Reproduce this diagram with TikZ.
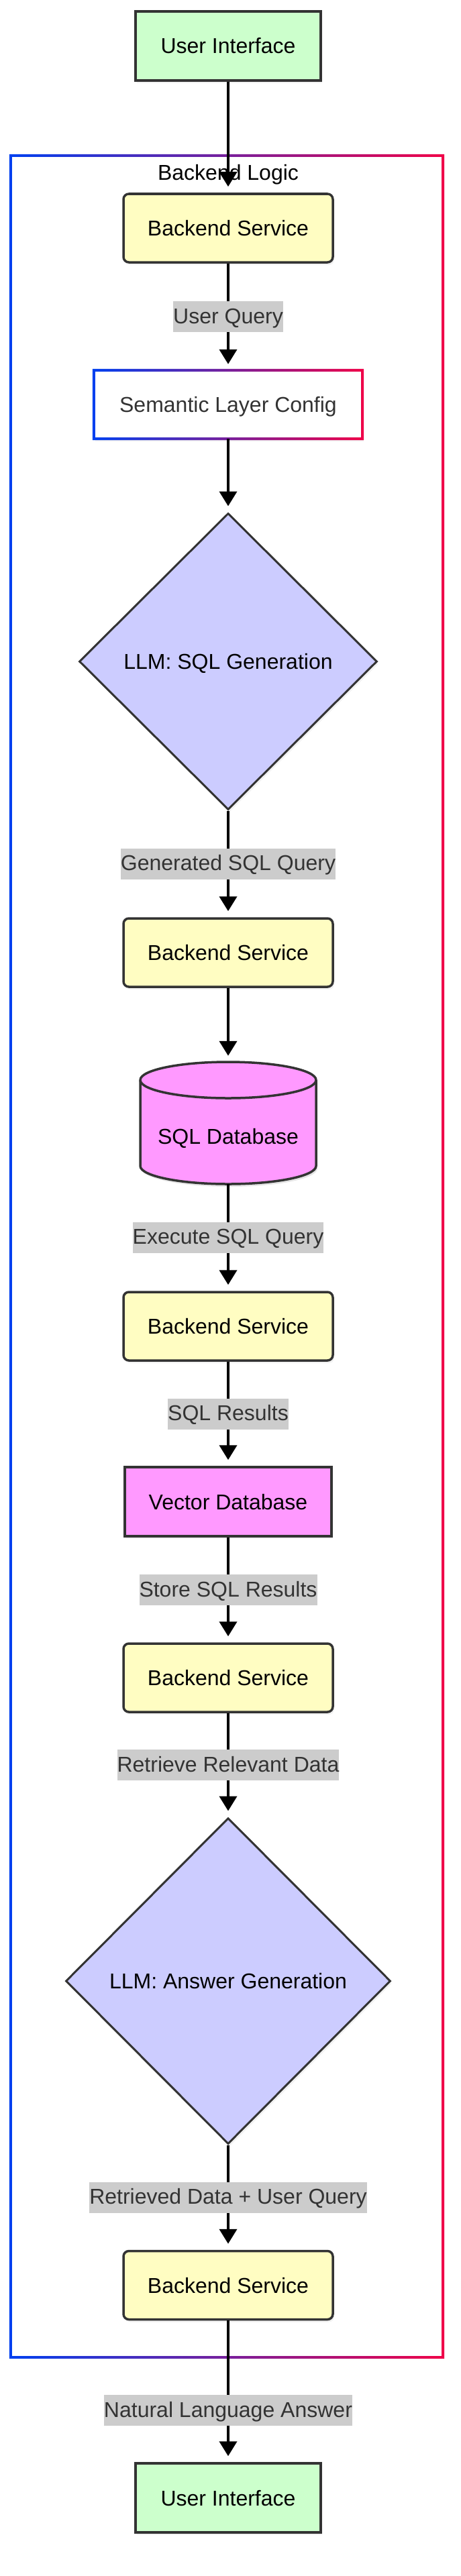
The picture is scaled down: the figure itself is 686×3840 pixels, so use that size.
\documentclass[tikz,border=0pt]{standalone}
\usepackage{fontspec}
\setmainfont{Liberation Sans}
\usetikzlibrary{shapes.geometric,arrows.meta,shadows}
\definecolor{gblue}{RGB}{0,64,240}
\definecolor{gred}{RGB}{240,0,72}
\definecolor{uifill}{HTML}{CCFFCC}
\definecolor{bsfill}{HTML}{FFFDC2}
\definecolor{dfill}{HTML}{CCCCFF}
\definecolor{dbfill}{HTML}{FF99FF}
\definecolor{strokec}{HTML}{333333}
\definecolor{lblbg}{HTML}{CCCCCC}
\definecolor{lbltext}{HTML}{333333}
\begin{document}
\begin{tikzpicture}[x=1pt,y=-1pt,
  every node/.style={font=\fontsize{32}{38}\selectfont, text height=23pt, text depth=0pt, inner sep=0pt},
  shadowed/.style={drop shadow={opacity=0.10,shadow xshift=2pt,shadow yshift=-4pt}},
  uibox/.style={rectangle, draw=strokec, line width=3.5pt, fill=uifill, minimum width=276pt, minimum height=103pt, shadowed},
  bsbox/.style={rectangle, rounded corners=8pt, draw=strokec, line width=3.5pt, fill=bsfill, minimum width=312pt, minimum height=102pt, shadowed},
  dbbox/.style={rectangle, draw=strokec, line width=3.5pt, fill=dbfill, minimum width=308pt, minimum height=103pt, shadowed},
  llm/.style={diamond, aspect=1, draw=strokec, line width=3pt, fill=dfill, shadowed},
  gradbox/.style={rectangle, fill=white, text=strokec, minimum width=400pt, minimum height=102pt, shadowed},
  flow/.style={draw=black, line width=4pt, -{Triangle[width=26pt,length=22pt]}, shorten >=9pt},
  lbl/.style={fill=lblbg, text=lbltext, inner xsep=0pt, inner ysep=7pt, text height=26pt, text depth=6pt}
]
\fill[white] (0,0) rectangle (686,3840);
\useasboundingbox (0,0) rectangle (686,3840);

% cluster
\node[rectangle, minimum width=644pt, minimum height=3282pt] (cluster) at (338,1873) {};
\shade[left color=gblue, right color=gred, even odd rule]
  ([xshift=-2pt,yshift=2pt]cluster.north west) rectangle ([xshift=2pt,yshift=-2pt]cluster.south east)
  ([xshift=2pt,yshift=-2pt]cluster.north west) rectangle ([xshift=-2pt,yshift=2pt]cluster.south east);
\node (clabel) at (340,257) {Backend Logic};

% nodes
\node[uibox] (ui1) at (340,68.5) {User Interface};
\node[bsbox] (bs1) at (340,340) {Backend Service};
\node[gradbox] (slc) at (340,603) {Semantic Layer Config};
\shade[left color=gblue, right color=gred, even odd rule]
  ([xshift=-2pt,yshift=2pt]slc.north west) rectangle ([xshift=2pt,yshift=-2pt]slc.south east)
  ([xshift=2pt,yshift=-2pt]slc.north west) rectangle ([xshift=-2pt,yshift=2pt]slc.south east);
\node[llm, minimum width=444pt, minimum height=442pt] (d1) at (340,986) {LLM: SQL Generation};
\node[bsbox] (bs2) at (340,1420) {Backend Service};

% cylinder
\node[rectangle, minimum width=262pt, minimum height=182pt] (sqldb) at (340,1674) {};
\path[fill=black, opacity=0.10, xshift=2pt, yshift=-4pt]
  (209,1610) -- (209,1738) arc[start angle=180,end angle=0,x radius=131,y radius=27]
  -- (471,1610) arc[start angle=0,end angle=-180,x radius=131,y radius=27] -- cycle;
\path[fill=dbfill, draw=strokec, line width=3.5pt]
  (209,1610) -- (209,1738) arc[start angle=180,end angle=0,x radius=131,y radius=27]
  -- (471,1610) arc[start angle=0,end angle=-180,x radius=131,y radius=27] -- cycle;
\draw[strokec, line width=3.5pt] (209,1610) arc[start angle=180,end angle=0,x radius=131,y radius=27];
\node (sqltxt) at (340,1694) {SQL Database};

\node[bsbox] (bs3) at (340,1977) {Backend Service};
\node[dbbox] (vdb) at (340,2238.5) {Vector Database};
\node[bsbox] (bs4) at (340,2501) {Backend Service};
\node[llm, minimum width=484pt, minimum height=486pt] (d2) at (340,2953) {LLM: Answer Generation};
\node[bsbox] (bs5) at (340,3406.5) {Backend Service};
\node[uibox] (ui2) at (340,3723.5) {User Interface};

% connectors
\draw[flow] (ui1.south) -- (bs1.north);
\draw[flow] (bs1.south) -- node[lbl, pos=0.5] (l1) {User Query} (slc.north);
\draw[flow] (slc.south) -- (d1.north);
\draw[flow] (d1.south) -- node[lbl, pos=0.5] (l2) {Generated SQL Query} (bs2.north);
\draw[flow] (bs2.south) -- (sqldb.north);
\draw[flow] (sqldb.south) -- node[lbl, pos=0.5] (l3) {Execute SQL Query} (bs3.north);
\draw[flow] (bs3.south) -- node[lbl, pos=0.5] (l4) {SQL Results} (vdb.north);
\draw[flow] (vdb.south) -- node[lbl, pos=0.5] (l5) {Store SQL Results} (bs4.north);
\draw[flow] (bs4.south) -- node[lbl, pos=0.5] (l6) {Retrieve Relevant Data} (d2.north);
\draw[flow] (d2.south) -- node[lbl, pos=0.5] (l7) {Retrieved Data + User Query} (bs5.north);
\draw[flow] (bs5.south) -- node[lbl, pos=0.636] (l8) {Natural Language Answer} (ui2.north);
\end{tikzpicture}
\end{document}
